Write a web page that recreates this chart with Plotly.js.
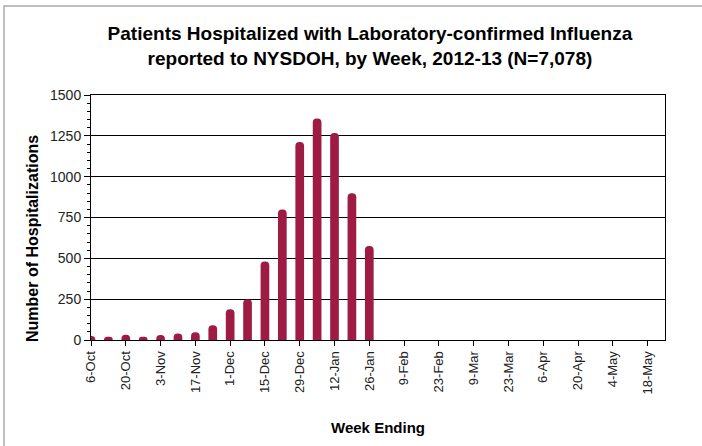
<!DOCTYPE html>
<html>
<head>
<meta charset="utf-8">
<script src="https://cdn.plot.ly/plotly-3.0.1.min.js"></script>
<style>html,body{margin:0;padding:0;background:#fff;}#chart{width:702px;height:446px;}</style>
</head>
<body>
<div id="chart"></div>
<script>
const weeks = ["6-Oct","13-Oct","20-Oct","27-Oct","3-Nov","10-Nov","17-Nov","24-Nov","1-Dec","8-Dec","15-Dec","22-Dec","29-Dec","5-Jan","12-Jan","19-Jan","26-Jan","2-Feb","9-Feb","16-Feb","23-Feb","2-Mar","9-Mar","16-Mar","23-Mar","30-Mar","6-Apr","13-Apr","20-Apr","27-Apr","4-May","11-May","18-May","25-May"];
const hospitalizations = [25,20,32,20,30,40,48,90,189,250,481,799,1213,1356,1268,899,576,null,null,null,null,null,null,null,null,null,null,null,null,null,null,null,null,null];
const yTicks = [0,250,500,750,1000,1250,1500];

const fontBold = "'Liberation Sans',Arial,sans-serif";
const fontReg = "'Liberation Sans',Arial,sans-serif";

const trace = {
  type: 'bar',
  x: weeks,
  y: hospitalizations,
  marker: {color: '#9E1C44', cornerradius: 4, line: {width: 0}},
  width: 0.5,
  hoverinfo: 'x+y'
};

const layout = {
  width: 702, height: 446,
  margin: {l: 91, r: 37, t: 95, b: 106},
  paper_bgcolor: '#fff', plot_bgcolor: '#fff',
  showlegend: false,
  title: {
    text: '<b>Patients Hospitalized with Laboratory-confirmed Influenza<br>reported to NYSDOH, by Week, 2012-13 (N=7,078)</b>',
    font: {family: fontBold, size: 19, color: '#000'},
    x: 0.527, xanchor: 'center', xref: 'container',
    y: 1 - 40/446, yanchor: 'top', yref: 'container'
  },
  xaxis: {
    type: 'category',
    range: [0, weeks.length - 1],
    tickmode: 'linear', tick0: 0, dtick: 2,
    tickangle: -90,
    ticks: 'outside', ticklen: 5, tickcolor: '#000', tickwidth: 1,
    tickfont: {family: fontReg, size: 13, color: '#222'},
    showline: true, linecolor: '#000', linewidth: 1,
    showgrid: false, mirror: true,
    fixedrange: true,
    title: {text: '<b>Week Ending</b>', font: {family: fontBold, size: 15, color: '#000'}, standoff: 28}
  },
  yaxis: {
    range: [0, 1500],
    tickmode: 'array', tickvals: yTicks,
    ticks: 'outside', ticklen: 6, tickcolor: '#000', tickwidth: 1,
    tickfont: {family: fontReg, size: 14, color: '#222'},
    showline: true, linecolor: '#000', linewidth: 1, mirror: true,
    showgrid: true, gridcolor: '#000', gridwidth: 1,
    zeroline: false,
    minor: {dtick: 50, tick0: 0, ticks: 'outside', ticklen: 3, tickcolor: '#000', showgrid: false},
    fixedrange: true
  },
  annotations: [{
    text: '<b>Number of Hospitalizations</b>',
    font: {family: fontBold, size: 16, color: '#000'},
    textangle: -90, showarrow: false,
    xref: 'paper', yref: 'paper',
    x: (32 - 91) / 574, y: (340 - 239) / 245,
    xanchor: 'center', yanchor: 'middle'
  }],
  shapes: [{
    type: 'rect', xref: 'paper', yref: 'paper',
    x0: (4 - 91) / 574, x1: (720 - 91) / 574,
    y0: (340 - 470) / 245, y1: (340 - 6) / 245,
    line: {color: '#aaa', width: 1.5}, fillcolor: 'rgba(0,0,0,0)', layer: 'below'
  }]
};

Plotly.newPlot('chart', [trace], layout, {displayModeBar: false, staticPlot: true});
</script>
</body>
</html>
